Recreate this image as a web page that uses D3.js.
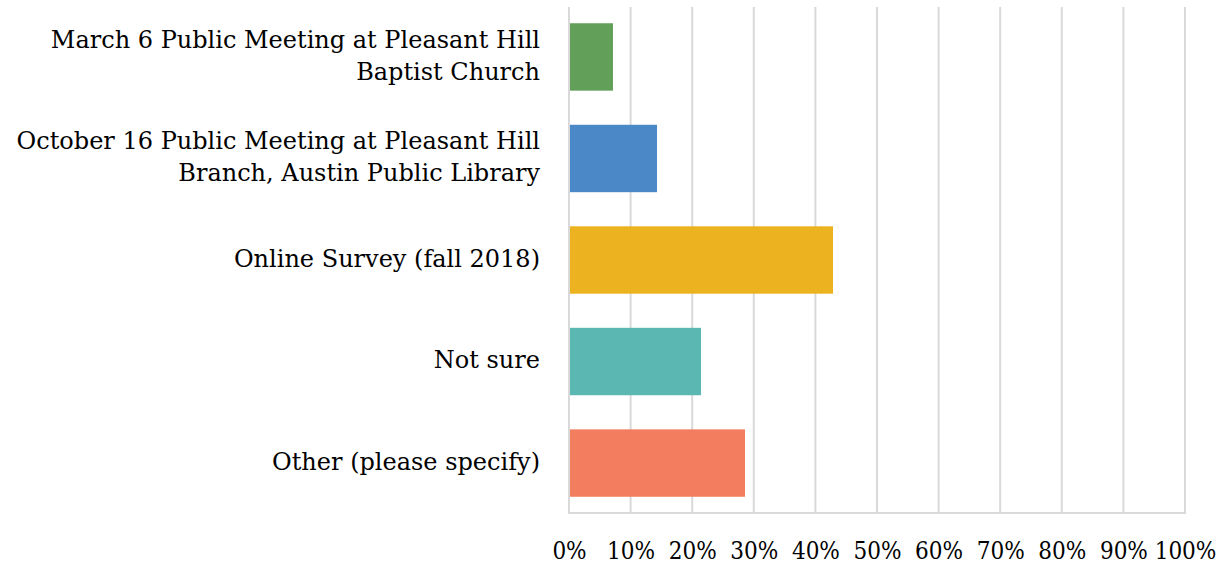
<!DOCTYPE html>
<html><head><meta charset="utf-8">
<script src="https://cdn.jsdelivr.net/npm/d3@7/dist/d3.min.js"></script>
<style>
body{margin:0;background:#fff;}
text{fill:#000;}
.cat{font-family:"DejaVu Serif",serif;font-size:24px;}
.tick text{font-family:"DejaVu Serif Condensed","DejaVu Serif",serif;font-stretch:condensed;font-size:24px;}
</style></head>
<body><svg id="chart" width="1222" height="565"></svg>
<script>
const categories = [
  ["March 6 Public Meeting at Pleasant Hill", "Baptist Church"],
  ["October 16 Public Meeting at Pleasant Hill", "Branch, Austin Public Library"],
  ["Online Survey (fall 2018)"],
  ["Not sure"],
  ["Other (please specify)"]
];
const values = [7.14, 14.29, 42.86, 21.43, 28.57];
const colors = ["#62a05a", "#4a88c8", "#edb220", "#5ab7b2", "#f27d5f"];
const tickValues = [0,10,20,30,40,50,60,70,80,90,100];

const svg = d3.select("#chart");
const m = {left:569, right:1185, top:7, bottom:513};
const x = d3.scaleLinear().domain([0,100]).range([m.left, m.right]);
const y = d3.scaleBand().domain(d3.range(categories.length)).range([m.top, m.bottom]).paddingInner(0.336).paddingOuter(0.16);

// gridlines
svg.append("g").selectAll("line").data(tickValues).join("line")
  .attr("x1", d=>x(d)).attr("x2", d=>x(d)).attr("y1", m.top).attr("y2", m.bottom)
  .attr("stroke", "#d9d9d9").attr("stroke-width", 2);
svg.append("line").attr("x1", m.left-1).attr("x2", m.right+1).attr("y1", m.bottom).attr("y2", m.bottom)
  .attr("stroke", "#d9d9d9").attr("stroke-width", 2);

// bars
svg.append("g").selectAll("rect").data(values).join("rect")
  .attr("x", x(0)+1).attr("y", (d,i)=>y(i)).attr("height", y.bandwidth())
  .attr("width", d=>x(d)-x(0)-1).attr("fill", (d,i)=>colors[i]);

// x axis labels
const xAxis = d3.axisBottom(x).tickValues(tickValues).tickFormat(d=>d+"%").tickSize(0).tickPadding(29);
const gx = svg.append("g").attr("transform", `translate(0,${m.bottom})`).call(xAxis);
gx.select(".domain").remove();
gx.attr("font-family", null).attr("font-size", null);
gx.selectAll("text").attr("fill","#000");

// category labels
const lh = 32;
const lab = svg.append("g").selectAll("text").data(categories).join("text")
  .attr("class","cat").attr("text-anchor","end")
  .attr("transform", (d,i)=>`translate(540,${y(i)+y.bandwidth()/2-2})`);
lab.each(function(lines){
  const t = d3.select(this);
  lines.forEach((s,k)=>{
    t.append("tspan").attr("x",0).attr("y", (k-(lines.length-1)/2)*lh).attr("dy","0.36em").text(s);
  });
});
</script></body></html>
